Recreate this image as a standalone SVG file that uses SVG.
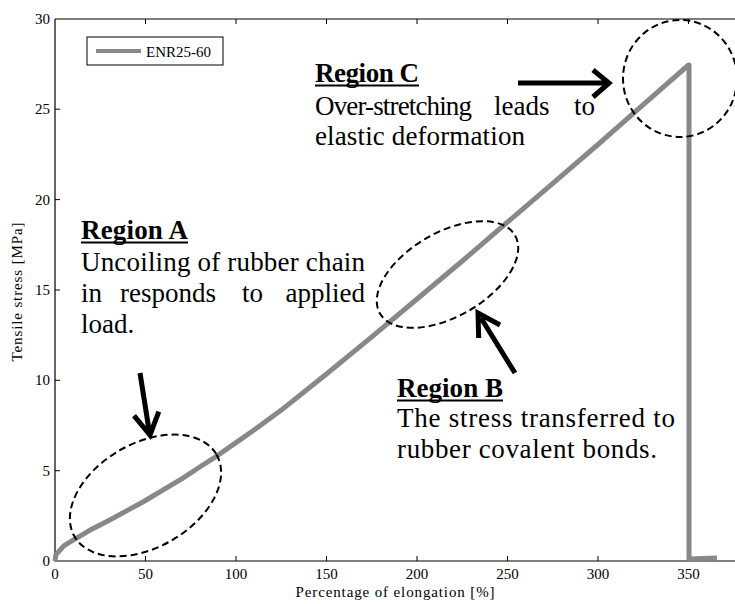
<svg xmlns="http://www.w3.org/2000/svg" width="735" height="604" viewBox="0 0 735 604">
<style>
.ax{stroke:#000;stroke-width:1.2;fill:none}
.tk{stroke:#000;stroke-width:1;fill:none}
.tl{font-family:"Liberation Serif","Times New Roman",serif;font-size:15px;fill:#000}
.ann{font-family:"Liberation Serif","Times New Roman",serif;font-size:27px;fill:#000}
.bold{font-weight:bold}
.ul{stroke:#000;stroke-width:1.8}
.dash{fill:none;stroke:#000;stroke-width:2;stroke-dasharray:7,4}
.arr{fill:none;stroke:#000;stroke-width:5;stroke-linejoin:miter}
.curve{fill:none;stroke:#888;stroke-width:5;stroke-linejoin:round}
</style>
<rect width="735" height="604" fill="#fff"/>
<g id="axes">
<path class="ax" d="M55,19 V561 H735 M55,19 H735"/>
<path class="tk" d="M145.5,561 v-5 M236,561 v-5 M326.5,561 v-5 M417,561 v-5 M507.5,561 v-5 M598,561 v-5 M688.5,561 v-5
M145.5,19 v5 M236,19 v5 M326.5,19 v5 M417,19 v5 M507.5,19 v5 M598,19 v5 M688.5,19 v5
M55,470.7 h5 M55,380.3 h5 M55,290 h5 M55,199.6 h5 M55,109.2 h5"/>
<g class="tl" text-anchor="end">
<text x="50" y="566">0</text>
<text x="50" y="475.7">5</text>
<text x="50" y="385.3">10</text>
<text x="50" y="295">15</text>
<text x="50" y="204.6">20</text>
<text x="50" y="114.2">25</text>
<text x="50" y="23.8">30</text>
</g>
<g class="tl" text-anchor="middle">
<text x="55" y="579">0</text>
<text x="145.5" y="579">50</text>
<text x="236" y="579">100</text>
<text x="326.5" y="579">150</text>
<text x="417" y="579">200</text>
<text x="507.5" y="579">250</text>
<text x="598" y="579">300</text>
<text x="688.5" y="579">350</text>
</g>
<text class="tl" x="395" y="597" text-anchor="middle" textLength="199">Percentage of elongation [%]</text>
<text class="tl" transform="translate(22,292) rotate(-90)" text-anchor="middle" textLength="139">Tensile stress [MPa]</text>
</g>
<g id="legend">
<rect x="87" y="37" width="136" height="28" fill="#fff" stroke="#000" stroke-width="1"/>
<line x1="96" y1="51" x2="141" y2="51" stroke="#888" stroke-width="4"/>
<text class="tl" x="146" y="57">ENR25-60</text>
</g>
<g id="curve">
<polyline class="curve" points="55,561 55.9,554.7 64.1,545.6 73.1,540.2 82.2,534.8 91.2,529.4 109.3,520.3 127.4,510.4 145.5,500.5 163.6,489.6 181.7,478.8 199.8,467 217.9,455.3 236,442.6 254.1,430 281.3,410.1 326.5,374 371.8,336.9 417,299 462.3,261 507.5,222.2 552.8,183.3 598,144.5 643.3,104.7 688.5,65 689,65 689,559 717,558"/>
</g>
<g id="regionA">
<ellipse class="dash" cx="145.5" cy="495.5" rx="82" ry="52" transform="rotate(-30 145.5 495.5)"/>
<text class="ann bold" x="81" y="239" textLength="107">Region A</text>
<line class="ul" x1="81" y1="242.5" x2="188" y2="242.5"/>
<text class="ann" x="81" y="271" textLength="284">Uncoiling of rubber chain</text>
<text class="ann" x="81" y="302">in</text>
<text class="ann" x="120" y="302">responds</text>
<text class="ann" x="242" y="302">to</text>
<text class="ann" x="365" y="302" text-anchor="end">applied</text>
<text class="ann" x="81" y="333">load.</text>
</g>
<g id="regionB">
<ellipse class="dash" cx="447.5" cy="274.5" rx="78" ry="42" transform="rotate(-30 447.5 274.5)"/>
<text class="ann bold" x="397" y="397" textLength="106">Region B</text>
<line class="ul" x1="397" y1="400.5" x2="503" y2="400.5"/>
<text class="ann" x="397" y="427" textLength="278">The stress transferred to</text>
<text class="ann" x="397" y="458" textLength="260">rubber covalent bonds.</text>
</g>
<g id="regionC">
<ellipse class="dash" cx="680" cy="78.5" rx="57" ry="58.5"/>
<text class="ann bold" x="315" y="82" textLength="104">Region C</text>
<line class="ul" x1="315" y1="85.5" x2="419" y2="85.5"/>
<text class="ann" x="315" y="115" textLength="157">Over-stretching</text>
<text class="ann" x="494" y="115">leads</text>
<text class="ann" x="595" y="115" text-anchor="end">to</text>
<text class="ann" x="315" y="145" textLength="210">elastic deformation</text>
</g>
<g id="connectors">
<path class="arr" d="M140,373 L149,430 M134,415.7 L150,435 L158.8,411.6"/>
<path class="arr" d="M515,373 L481,318 M478.7,338 L478,313 L500,325"/>
<path class="arr" d="M518,83 L606,83 M593,70 L609,83 L593,97"/>
</g>
</svg>
